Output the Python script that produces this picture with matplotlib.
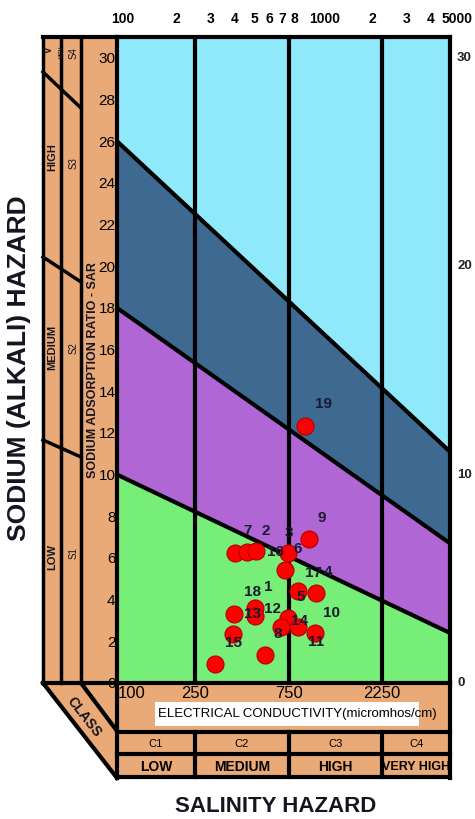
import numpy as np
import matplotlib
matplotlib.use('Agg')
import matplotlib.pyplot as plt
import matplotlib.transforms as mtransforms
from matplotlib.patches import Polygon, Rectangle

plt.rcParams['font.family'] = ['Liberation Sans', 'DejaVu Sans']
NARROW = ['Liberation Sans Narrow', 'Liberation Sans', 'DejaVu Sans']

# ---------------------------------------------------------------------------
# Data
# ---------------------------------------------------------------------------
ec_limits = [100, 5000]
sar_limits = [0, 31]

# hazard boundary lines, straight on log(EC) vs SAR, given at EC = 100 and 5000
boundary_ec = [100, 5000]
s1_s2 = [10.0, 2.4]
s2_s3 = [18.0, 6.7]
s3_s4 = [26.0, 11.1]

class_ec = [250, 750, 2250]
class_codes = ['C1', 'C2', 'C3', 'C4']
class_names = ['LOW', 'MEDIUM', 'HIGH', 'VERY HIGH']

sar_ticks = list(range(0, 31, 2))
right_ticks = [0, 10, 20, 30]
top_ticks = [100, 200, 300, 400, 500, 600, 700, 800, 1000, 2000, 3000, 4000, 5000]
top_labels = ['100', '2', '3', '4', '5', '6', '7', '8', '1000', '2', '3', '4', '5000']
bottom_ticks = [100, 250, 750, 2250]

# water samples (EC in micromhos/cm, SAR)
sample_ec = [400, 461, 512, 746, 954, 720, 838, 1036, 395, 506,
             506, 746, 687, 838, 1024, 391, 569, 316, 910]
sample_sar = [6.25, 6.3, 6.35, 6.25, 6.9, 5.4, 4.4, 4.3, 3.3, 3.6,
              3.2, 3.1, 2.7, 2.7, 2.4, 2.35, 1.35, 0.9, 12.35]

# sample number labels and where they sit on the chart
label_ids = ['1', '2', '3', '4', '5', '6', '7', '8', '9', '10',
             '11', '12', '13', '14', '15', '16', '17', '18', '19']
label_ec = [589, 576, 754, 1193, 868, 838, 466, 663, 1112, 1250,
            1036, 618, 494, 858, 395, 640, 1010, 494, 1125]
label_sar = [4.62, 7.31, 7.21, 5.34, 4.13, 6.44, 7.31, 2.36, 7.93, 3.37,
             1.97, 3.56, 3.32, 2.98, 1.92, 6.3, 5.29, 4.38, 13.41]

# colours
C_S1 = '#77EE77'
C_S2 = '#B066D4'
C_S3 = '#3E6A91'
C_S4 = '#8FE9FA'
TAN = '#E9AA78'
TXT = '#151520'

# ---------------------------------------------------------------------------
W, H = 475, 819
fig = plt.figure(figsize=(W / 100, H / 100), dpi=100)

# pixel-space canvas for the decorative frame
deco = fig.add_axes([0, 0, 1, 1])
deco.set_xlim(0, W)
deco.set_ylim(H, 0)
deco.axis('off')

L, R, T, B = 117, 450, 37, 683
ax = fig.add_axes([L / W, 1 - B / H, (R - L) / W, (B - T) / H])
ax.set_xscale('log')
ax.set_xlim(*ec_limits)
ax.set_ylim(*sar_limits)

# --- hazard zones ---
top = [sar_limits[1]] * 2
ax.fill_between(boundary_ec, 0, s1_s2, color=C_S1, lw=0)
ax.fill_between(boundary_ec, s1_s2, s2_s3, color=C_S2, lw=0)
ax.fill_between(boundary_ec, s2_s3, s3_s4, color=C_S3, lw=0)
ax.fill_between(boundary_ec, s3_s4, top, color=C_S4, lw=0)
for line in (s1_s2, s2_s3, s3_s4):
    ax.plot(boundary_ec, line, color='black', lw=3, solid_capstyle='butt')
for x in class_ec:
    ax.axvline(x, color='black', lw=3)

for sp in ax.spines.values():
    sp.set_linewidth(3)
ax.set_xticks([])
ax.set_xticks([], minor=True)
ax.set_yticks(sar_ticks)
ax.set_yticklabels([str(t) for t in sar_ticks], fontsize=11, family=NARROW)
ax.tick_params(axis='y', length=0, pad=1)

# --- samples ---
ax.scatter(sample_ec, sample_sar, s=150, color='#FF0000', edgecolor='#B00000',
           lw=0.8, zorder=5, clip_on=False)
for t, x, y in zip(label_ids, label_ec, label_sar):
    ax.text(x, y, t, ha='center', va='center', fontsize=11, fontweight='bold',
            color='#1A1A30', zorder=6)

# top EC scale and right SAR scale
top_tr = mtransforms.blended_transform_factory(ax.transData, deco.transData)
for x, t in zip(top_ticks, top_labels):
    ha = 'center'
    dx = 0
    if t == '100':
        dx = 6
    if t == '1000':
        ha, dx = 'left', -4
    if t == '5000':
        ha, dx = 'right', 23
    off = mtransforms.offset_copy(top_tr, fig=fig, x=dx, y=0, units='dots')
    ax.text(x, 19, t, transform=off, ha=ha, va='center', fontsize=10,
            fontweight='bold', clip_on=False)
right_tr = mtransforms.blended_transform_factory(deco.transData, ax.transData)
for v in right_ticks:
    ax.text(457, v, str(v), transform=right_tr, ha='left', va='center',
            fontsize=9.5, fontweight='bold', color='#222222', clip_on=False)

# ---------------------------------------------------------------------------
# Left (sodium) panel
# ---------------------------------------------------------------------------
LX = [43, 61, 81]
deco.add_patch(Polygon([(LX[0], T), (L, T), (L, 778), (LX[0], B)], closed=True,
                       facecolor=TAN, edgecolor='none'))
for x in LX:
    deco.plot([x, x], [T, B], color='black', lw=2.5)
deco.plot([LX[0], L], [T, T], color='black', lw=3)
deco.plot([LX[0], L], [B, B], color='black', lw=3)
for y0, y1 in [(72, 108), (257, 282), (440, 457)]:
    deco.plot([LX[0], LX[2]], [y0, y1], color='black', lw=2.5)
deco.plot([LX[0], L], [B, 778], color='black', lw=3)
deco.plot([LX[2], L], [B, 731], color='black', lw=3)
deco.text(84, 717, 'CLASS', rotation=-52, ha='center', va='center',
          fontsize=10, fontweight='bold', color=TXT)

for txt, y in [('HIGH', 157), ('MEDIUM', 347), ('LOW', 557)]:
    deco.text(52, y, txt, rotation=90, ha='center', va='center', fontsize=8,
              fontweight='bold', color=TXT)
deco.text(49, 50, 'V', rotation=90, ha='center', va='center', fontsize=7,
          fontweight='bold', color=TXT)
deco.text(61, 52, 'HIGH', rotation=90, ha='center', va='center', fontsize=3.5,
          fontweight='bold', color=TXT)
for txt, y in [('S4', 53), ('S3', 163), ('S2', 348), ('S1', 553)]:
    deco.text(74, y, txt, rotation=90, ha='center', va='center', fontsize=7,
              color=TXT)
deco.text(93, 370, 'SODIUM ADSORPTION RATIO - SAR', rotation=90, ha='center',
          va='center', fontsize=9, fontweight='bold', color=TXT)
deco.text(19, 368, 'SODIUM (ALKALI) HAZARD', rotation=90, ha='center',
          va='center', fontsize=19, fontweight='bold', color=TXT)

# ---------------------------------------------------------------------------
# Bottom (salinity) panel
# ---------------------------------------------------------------------------
deco.add_patch(Rectangle((L, B), R - L, 778 - B, facecolor=TAN, edgecolor='none'))
for y in (732, 754, 777):
    deco.plot([L, R], [y, y], color='black', lw=3)
deco.plot([L, L], [B, 778], color='black', lw=3)
deco.plot([R, R], [B, 778], color='black', lw=3)
for x in class_ec:
    deco.plot([x, x], [732, 777], transform=top_tr, color='black', lw=3)

bot_off = {100: ('left', 1), 250: ('center', 0), 750: ('center', 0),
           2250: ('center', 0)}
for x in bottom_ticks:
    ha, dx = bot_off[x]
    off = mtransforms.offset_copy(top_tr, fig=fig, x=dx, y=0, units='dots')
    ax.text(x, 694, str(x), transform=off, ha=ha, va='center', fontsize=12,
            family=NARROW, clip_on=False)

deco.add_patch(Rectangle((155, 702), 264, 24, facecolor='white', edgecolor='none'))
deco.text(158, 714, 'ELECTRICAL CONDUCTIVITY(micromhos/cm)', ha='left',
          va='center', fontsize=9.5, family=NARROW)

edges = [ec_limits[0]] + class_ec + [ec_limits[1]]
for i in range(4):
    mid = np.sqrt(edges[i] * edges[i + 1])
    ax.text(mid, 744, class_codes[i], transform=top_tr, ha='center',
            va='center', fontsize=8, family=NARROW, clip_on=False)
    ax.text(mid, 767, class_names[i], transform=top_tr, ha='center',
            va='center', fontsize=9 if i == 3 else 10, fontweight='bold',
            family=NARROW, clip_on=False)

deco.text(276, 806, 'SALINITY HAZARD', ha='center', va='center', fontsize=16,
          fontweight='bold', color=TXT)

fig.savefig('out.png', dpi=100)
